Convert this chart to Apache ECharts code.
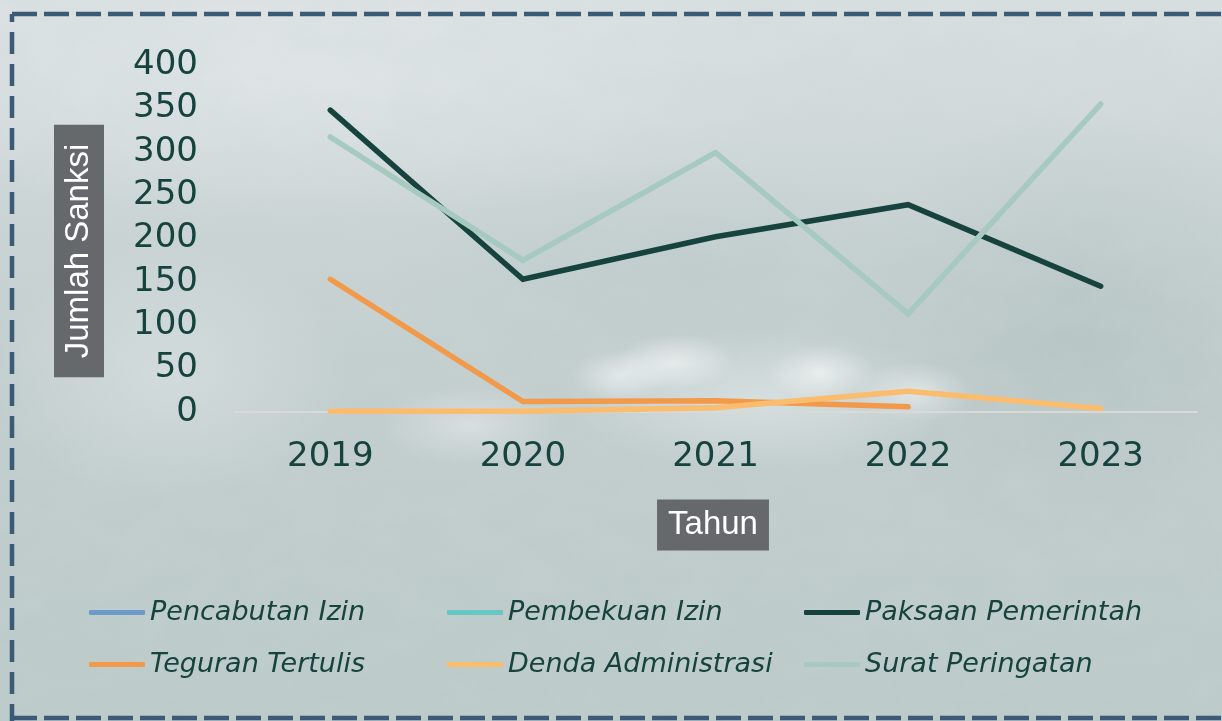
<!DOCTYPE html>
<html>
<head>
<meta charset="utf-8">
<title>Jumlah Sanksi per Tahun</title>
<script src="https://cdn.jsdelivr.net/npm/echarts@6/dist/echarts.min.js"></script>
<style>
  html, body { margin: 0; padding: 0; width: 1222px; height: 721px; overflow: hidden; }
  #wrap {
    position: relative; width: 1222px; height: 721px;
    background:
      radial-gradient(ellipse 60px 28px at 675px 362px, rgba(255,255,255,0.6), rgba(255,255,255,0) 100%),
      radial-gradient(ellipse 50px 26px at 620px 375px, rgba(255,255,255,0.5), rgba(255,255,255,0) 100%),
      radial-gradient(ellipse 55px 28px at 820px 372px, rgba(255,255,255,0.55), rgba(255,255,255,0) 100%),
      radial-gradient(ellipse 60px 30px at 915px 392px, rgba(255,255,255,0.45), rgba(255,255,255,0) 100%),
      radial-gradient(ellipse 90px 40px at 470px 425px, rgba(255,255,255,0.35), rgba(255,255,255,0) 100%),
      radial-gradient(ellipse 200px 70px at 760px 400px, rgba(236,242,242,0.5), rgba(236,242,242,0) 100%),
      radial-gradient(ellipse 180px 130px at 170px 370px, rgba(222,229,230,0.6), rgba(222,229,230,0) 100%),
      radial-gradient(ellipse 260px 220px at 1080px 330px, rgba(172,188,187,0.5), rgba(172,188,187,0) 100%),
      radial-gradient(ellipse 320px 110px at 690px 270px, rgba(180,195,195,0.4), rgba(180,195,195,0) 100%),
      radial-gradient(ellipse 520px 150px at 300px 70px, rgba(226,231,232,0.8), rgba(226,231,232,0) 100%),
      linear-gradient(180deg, #d8dfe0 0%, #cdd6d7 25%, #c3cecf 50%, #c0cccc 75%, #bccaca 100%);
  }
  #noise { position: absolute; left: 0; top: 0; width: 1222px; height: 721px; opacity: 0.3; }
  #chart { position: absolute; left: 0; top: 0; width: 1222px; height: 721px; }
</style>
</head>
<body>
<div id="wrap">
  <div id="noise"></div>
  <div id="chart"></div>
</div>
<script>
// Years on the category axis
const years = ['2019', '2020', '2021', '2022', '2023'];

// Sanctions per type and year (null = no record)
const pencabutanIzin = [null, null, null, null, null];
const pembekuanIzin = [null, null, null, null, null];
const paksaanPemerintah = [348, 153, 202, 239, 145];
const teguranTertulis = [153, 12, 13, 6, null];
const dendaAdministrasi = [1, 1, 5, 24, 4];
const suratPeringatan = [317, 175, 299, 113, 355];

// Value axis range and step
const yMin = 0;
const yMax = 400;
const yStep = 50;

// Soft mottled texture behind the chart
const noiseSvg = "<svg xmlns='http://www.w3.org/2000/svg' width='1222' height='721'>" +
  "<filter id='n'><feTurbulence type='fractalNoise' baseFrequency='0.018 0.03' numOctaves='4' seed='7'/>" +
  "<feColorMatrix values='0 0 0 0 0.6  0 0 0 0 0.67  0 0 0 0 0.67  0 0 0 1.3 -0.45'/></filter>" +
  "<rect width='100%' height='100%' filter='url(#n)'/></svg>";
document.getElementById('noise').style.backgroundImage =
  'url("data:image/svg+xml;charset=utf-8,' + encodeURIComponent(noiseSvg) + '")';

const seriesDefs = [
  { name: 'Pencabutan Izin', data: pencabutanIzin, color: '#6b9bcb' },
  { name: 'Pembekuan Izin', data: pembekuanIzin, color: '#68c6c4' },
  { name: 'Paksaan Pemerintah', data: paksaanPemerintah, color: '#17433f' },
  { name: 'Teguran Tertulis', data: teguranTertulis, color: '#f29a4a' },
  { name: 'Denda Administrasi', data: dendaAdministrasi, color: '#fbbc6e' },
  { name: 'Surat Peringatan', data: suratPeringatan, color: '#a6c9c0' }
];

const textColor = '#17433f';
const legendSpots = [
  [89, 599], [447, 599], [804, 599],
  [89, 651], [447, 651], [804, 651]
];

const legends = seriesDefs.map((s, i) => ({
  data: [s.name],
  left: legendSpots[i][0],
  top: legendSpots[i][1],
  padding: 0,
  icon: 'roundRect',
  itemWidth: 56,
  itemHeight: 5,
  selectedMode: false,
  textStyle: {
    fontFamily: 'DejaVu Sans',
    fontStyle: 'italic',
    fontSize: 27,
    color: textColor
  }
}));

const chart = echarts.init(document.getElementById('chart'), null, { renderer: 'canvas' });

chart.setOption({
  backgroundColor: 'transparent',
  animation: false,
  grid: { left: 234, right: 25, top: 65, bottom: 309, containLabel: false },
  legend: legends,
  xAxis: {
    type: 'category',
    data: years,
    boundaryGap: true,
    axisLine: { show: true, lineStyle: { color: '#d9d9d9', width: 2 } },
    axisTick: { show: false },
    axisLabel: {
      margin: 28,
      fontFamily: 'DejaVu Sans',
      fontSize: 34,
      color: textColor
    },
    splitLine: { show: false }
  },
  yAxis: {
    type: 'value',
    min: yMin,
    max: yMax,
    interval: yStep,
    axisLine: { show: false },
    axisTick: { show: false },
    splitLine: { show: false },
    axisLabel: {
      margin: 36,
      fontFamily: 'DejaVu Sans',
      fontSize: 34,
      color: textColor
    }
  },
  series: seriesDefs.map(s => ({
    name: s.name,
    type: 'line',
    data: s.data,
    color: s.color,
    showSymbol: false,
    symbol: 'none',
    connectNulls: false,
    lineStyle: { width: 5.5, color: s.color, cap: 'round', join: 'miter' },
    emphasis: { disabled: true }
  })),
  graphic: [
    // dashed frame
    { type: 'line', silent: true, shape: { x1: 12, y1: 14, x2: 1240, y2: 14 },
      style: { stroke: '#3a5a75', lineWidth: 4.5, lineDash: [25, 7] } },
    { type: 'line', silent: true, shape: { x1: 12, y1: 14, x2: 12, y2: 740 },
      style: { stroke: '#3a5a75', lineWidth: 4.5, lineDash: [22, 10], lineDashOffset: 14 } },
    { type: 'line', silent: true, shape: { x1: 12, y1: 718, x2: 1240, y2: 718 },
      style: { stroke: '#3a5a75', lineWidth: 4.5, lineDash: [25, 7] } },
    // axis titles
    { type: 'text', silent: true, x: 79, y: 251, rotation: Math.PI / 2,
      style: {
        text: 'Jumlah Sanksi', font: '33px "Liberation Sans"', fill: '#ffffff',
        align: 'center', verticalAlign: 'middle', lineHeight: 33,
        backgroundColor: '#65696b', padding: [9, 19, 8, 19]
      } },
    { type: 'text', silent: true, x: 713, y: 525,
      style: {
        text: 'Tahun', font: '33px "Liberation Sans"', fill: '#ffffff',
        align: 'center', verticalAlign: 'middle', lineHeight: 33,
        backgroundColor: '#65696b', padding: [9, 11, 9, 11]
      } }
  ]
});
</script>
</body>
</html>
